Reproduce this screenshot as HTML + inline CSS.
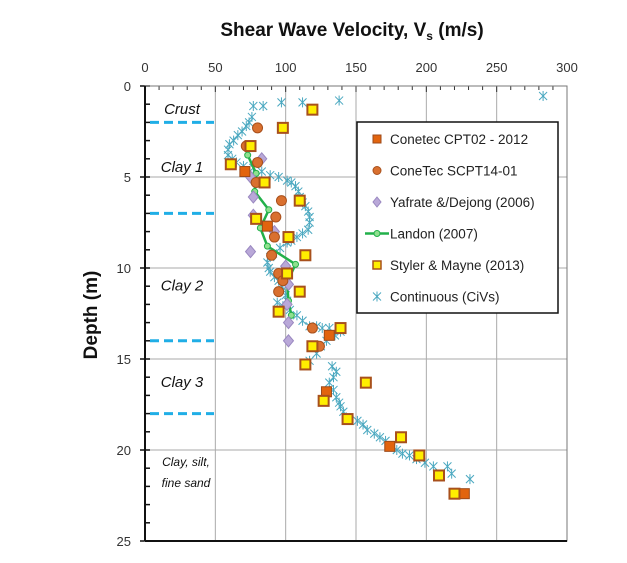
<!DOCTYPE html>
<html><head><meta charset="utf-8"><style>
body{margin:0;background:#fff;font-family:"Liberation Sans",sans-serif}
svg text{font-family:"Liberation Sans",sans-serif}
</style></head><body>
<svg id="c" width="627" height="558" viewBox="0 0 627 558" xmlns="http://www.w3.org/2000/svg">
<text x="352" y="36" text-anchor="middle" font-size="19" font-weight="bold" fill="#111">Shear Wave Velocity,  V<tspan font-size="12" dy="4">s</tspan><tspan dy="-4"> (m/s)</tspan></text>
<text transform="translate(97,315) rotate(-90)" text-anchor="middle" font-size="19" font-weight="bold" fill="#111">Depth (m)</text>
<g id="grid"></g><g id="marks"></g><g id="axes"></g>
</svg>
<script>
const xTicks=[0,50,100,150,200,250,300];
const yTicks=[0,5,10,15,20,25];
const stylerV=[119,98,75,61,85,110,79,102,114,101,110,95,139,119,114,157,127,144,182,195,209,220];
const stylerD=[1.3,2.3,3.3,4.3,5.3,6.3,7.3,8.3,9.3,10.3,11.3,12.4,13.3,14.3,15.3,16.3,17.3,18.3,19.3,20.3,21.4,22.4];
const cptV=[71,87,131,129,174,227];
const cptD=[4.7,7.7,13.7,16.8,19.8,22.4];
const scptV=[80,72,80,79,97,93,92,90,95,98,95,119,124];
const scptD=[2.3,3.3,4.2,5.3,6.3,7.2,8.3,9.3,10.3,10.7,11.3,13.3,14.3];
const yafV=[83,75,77,77,92,75,100,102,101,102,102];
const yafD=[4.0,5.0,6.1,7.1,8.0,9.1,9.9,10.9,12.0,13.0,14.0];
const landonV=[73,79,78,88,82,87,107,101,102,104];
const landonD=[3.8,4.8,5.8,6.8,7.8,8.8,9.8,10.8,11.8,12.6];
const civV=[283,138,112,97,84,77,76,74,72,69,66,63,60,59,59,62,65,70,77,83,89,95,101,104,107,109,110,112,114,116,117,117,116,112,108,104,101,96,91,89,87,88,89,92,95,97,98,100,101,94,98,103,108,112,117,122,126,131,139,135,129,125,122,117,133,136,134,131,134,136,138,139,141,143,151,155,158,163,167,171,174,179,183,188,193,199,205,215,218,231];
const civD=[0.55,0.8,0.9,0.9,1.1,1.1,1.7,2.0,2.2,2.5,2.7,3.0,3.2,3.5,3.8,4.0,4.2,4.4,4.5,4.7,4.9,5.0,5.2,5.3,5.5,5.8,6.1,6.4,6.6,6.9,7.2,7.5,7.9,8.1,8.3,8.5,8.6,8.9,9.2,9.4,9.7,10.0,10.2,10.5,10.7,11.0,11.2,11.5,11.8,11.9,12.1,12.3,12.6,12.9,13.2,13.2,13.3,13.3,13.5,13.7,14.0,14.3,14.7,15.1,15.4,15.7,16.0,16.3,16.7,17.1,17.4,17.6,17.9,18.2,18.4,18.6,18.9,19.1,19.3,19.5,19.8,20.0,20.2,20.3,20.5,20.7,20.9,20.9,21.3,21.6];
const NS='http://www.w3.org/2000/svg';
const X0=145,XS=1.4067,Y0=86,YS=18.2,XR=567,YB=541;
const sx=v=>X0+v*XS, sy=d=>Y0+d*YS;
function el(t,a,p){const e=document.createElementNS(NS,t);for(const k in a)e.setAttribute(k,a[k]);p.appendChild(e);return e;}
const grid=document.getElementById('grid'),marks=document.getElementById('marks'),axes=document.getElementById('axes');
xTicks.forEach(v=>{if(v>0&&v<300){const l=el('line',{x1:sx(v),x2:sx(v),y1:Y0,y2:YB,stroke:'#aaa','stroke-width':1},grid);

}
const t=el('text',{x:sx(v),y:72,'text-anchor':'middle','font-size':13,fill:'#333'},axes);t.textContent=v;

});
yTicks.forEach(d=>{if(d>0&&d<25){const l=el('line',{x1:X0,x2:XR,y1:sy(d),y2:sy(d),stroke:'#aaa','stroke-width':1},grid);

}
const t=el('text',{x:131,y:sy(d)+5,'text-anchor':'end','font-size':13,fill:'#333'},axes);t.textContent=d;

});
for(let v=0;v<=300;v+=10){el('line',{x1:sx(v),x2:sx(v),y1:Y0,y2:Y0+(v%50?4:6),stroke:'#333','stroke-width':1},axes);}
for(let d=0;d<=25;d++){el('line',{x1:X0-(d%5?0:5),x2:X0+5,y1:sy(d),y2:sy(d),stroke:'#111','stroke-width':1.5},axes);}
let fr=el('rect',{x:X0,y:Y0,width:XR-X0,height:YB-Y0,fill:'none',stroke:'#777','stroke-width':1},axes);


let la=el('line',{x1:X0,x2:X0,y1:Y0,y2:YB,stroke:'#111','stroke-width':2},axes);


el('line',{x1:X0,x2:XR,y1:YB,y2:YB,stroke:'#111','stroke-width':2},axes);
// layer boundaries
[2,7,14,18].forEach(d=>{const l=el('line',{x1:150,x2:214,y1:sy(d),y2:sy(d),stroke:'#20aee6','stroke-width':3,'stroke-dasharray':'9,5'},grid);

});
[['Crust',1.2],['Clay 1',4.4],['Clay 2',10.9],['Clay 3',16.2]].forEach(([s,d])=>{const t=el('text',{x:182,y:sy(d)+6,'text-anchor':'middle','font-size':15,'font-style':'italic',fill:'#111'},grid);t.textContent=s;

});
[['Clay, silt,',466],['fine sand',487]].forEach(([s,y])=>{const t=el('text',{x:186,y:y,'text-anchor':'middle','font-size':12,'font-style':'italic',fill:'#111'},grid);t.textContent=s;

});
function star(x,y,p){const g=el('g',{stroke:'#4aa8c0','stroke-width':1},p);
el('line',{x1:x-4,x2:x+4,y1:y-4,y2:y+4},g);el('line',{x1:x-4,x2:x+4,y1:y+4,y2:y-4},g);el('line',{x1:x,x2:x,y1:y-5,y2:y+5},g);return g;}
civV.forEach((v,i)=>{const g=star(sx(v),sy(civD[i]),marks);

});
const lp=el('polyline',{points:landonV.map((v,i)=>sx(v)+','+sy(landonD[i])).join(' '),fill:'none',stroke:'#22b04a','stroke-width':2.5},marks);


landonV.forEach((v,i)=>{const c=el('circle',{cx:sx(v),cy:sy(landonD[i]),r:3,fill:'#8fe08f',stroke:'#22b04a'},marks);

});
yafV.forEach((v,i)=>{const x=sx(v),y=sy(yafD[i]);const p=el('polygon',{points:`${x},${y-6} ${x+5},${y} ${x},${y+6} ${x-5},${y}`,fill:'#b9a8d8',stroke:'#9a88c0'},marks);

});
scptV.forEach((v,i)=>{const c=el('circle',{cx:sx(v),cy:sy(scptD[i]),r:5,fill:'#d9702f',stroke:'#a8501c'},marks);

});
cptV.forEach((v,i)=>{const r=el('rect',{x:sx(v)-5,y:sy(cptD[i])-5,width:10,height:10,fill:'#e2640e',stroke:'#9c4a1a'},marks);

});
stylerV.forEach((v,i)=>{const r=el('rect',{x:sx(v)-5,y:sy(stylerD[i])-5,width:10,height:10,fill:'#ffee00',stroke:'#a8501c','stroke-width':2},marks);

});
// legend
const lg=el('g',{},axes);


el('rect',{x:357,y:122,width:201,height:191,fill:'#fff',stroke:'#111','stroke-width':1.5},lg);
const names=['Conetec CPT02 - 2012','ConeTec SCPT14-01','Yafrate &/Dejong (2006)','Landon (2007)','Styler & Mayne (2013)','Continuous (CiVs)'];
names.forEach((n,i)=>{const y=139+i*31.5;const x=377;
if(i==0)el('rect',{x:x-4,y:y-4,width:8,height:8,fill:'#e2640e',stroke:'#9c4a1a'},lg);
if(i==1)el('circle',{cx:x,cy:y,r:4,fill:'#d9702f',stroke:'#a8501c'},lg);
if(i==2)el('polygon',{points:`${x},${y-5} ${x+4},${y} ${x},${y+5} ${x-4},${y}`,fill:'#b9a8d8',stroke:'#9a88c0'},lg);
if(i==3){el('line',{x1:x-12,x2:x+12,y1:y,y2:y,stroke:'#22b04a','stroke-width':2.5},lg);el('circle',{cx:x,cy:y,r:3,fill:'#8fe08f',stroke:'#22b04a'},lg);}
if(i==4)el('rect',{x:x-4,y:y-4,width:8,height:8,fill:'#ffee00',stroke:'#a8501c','stroke-width':1.5},lg);
if(i==5)star(x,y,lg);
const t=el('text',{x:390,y:y+5,'font-size':13.5,fill:'#222'},lg);t.textContent=n;

});
</script>
</body></html>
